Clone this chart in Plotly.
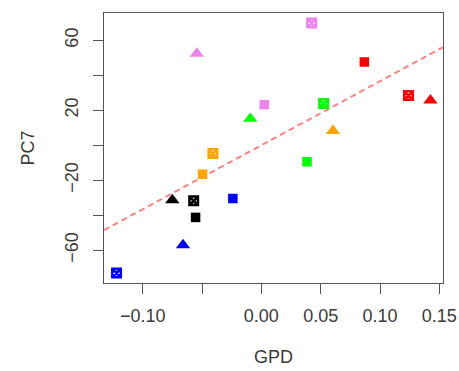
import numpy as np
import plotly.graph_objects as go

# data
gpd = [-0.122, -0.066, -0.075, -0.057, -0.0554, -0.0495, -0.0408, -0.024, 0.0385,
       -0.0543, 0.0025, -0.0093, 0.0424, 0.0525, 0.0604, 0.0868, 0.124, 0.1425]
pc7 = [-73.1, -57.1, -31.4, -31.8, -41.3, -16.6, -4.8, -30.5, -9.5,
       52.4, 23.2, 15.2, 69.9, 23.8, 8.2, 47.6, 28.4, 25.7]
group_color = ["blue", "blue", "black", "black", "black", "orange", "orange", "blue", "green",
               "violet", "violet", "green", "violet", "green", "orange", "red", "red", "red"]
shape = ["crossed", "triangle", "triangle", "crossed", "square", "square", "crossed", "square", "square",
         "triangle", "square", "triangle", "crossed", "crossed", "triangle", "square", "crossed", "triangle"]

x_ticks = [-0.10, -0.05, 0.00, 0.05, 0.10, 0.15]
x_ticktext = ["\u22120.10", "", "0.00", "0.05", "0.10", "0.15"]
y_ticks = [-60, -40, -20, 0, 20, 40, 60]
y_ticktext = ["\u221260", "", "\u221220", "", "20", "", "60"]

cmap = {"red": "#FF0000", "orange": "#FFA500", "green": "#00FF00",
        "blue": "#0000FF", "violet": "#EE82EE", "black": "#000000"}

fig = go.Figure()

x = np.array(gpd)
y = np.array(pc7)
slope, intercept = np.polyfit(x, y, 1)

def pad(a):
    lo, hi = a.min(), a.max()
    d = (hi - lo) * 0.04
    return [lo - d, hi + d]

xr = pad(x)
yr = pad(y)

xl = np.array(xr)
fig.add_trace(go.Scatter(x=xl, y=slope * xl + intercept, mode="lines",
                         line=dict(color="#FF8080", width=2, dash="6px,4px"),
                         hoverinfo="skip", showlegend=False))

for sh in ["square", "triangle", "crossed"]:
    idx = [i for i, s in enumerate(shape) if s == sh]
    cols = [cmap[group_color[i]] for i in idx]
    if sh == "square":
        m = dict(symbol="square", size=9.5, color=cols, line=dict(width=0))
    elif sh == "triangle":
        m = dict(symbol="triangle-up", size=12.5, color=cols, line=dict(width=0))
    else:
        m = dict(symbol="square-x-open", size=8.5, color=cols, line=dict(width=2.5, color=cols))
    fig.add_trace(go.Scatter(x=[gpd[i] for i in idx], y=[pc7[i] for i in idx],
                             mode="markers", marker=m, showlegend=False))

font = dict(family="Liberation Sans, Arial", size=18, color="#3a3a3a")
axis_common = dict(showgrid=False, zeroline=False, showline=True, mirror=True,
                   linecolor="#555555", linewidth=1, ticks="outside", ticklen=10,
                   tickcolor="#555555", tickwidth=1, automargin=False,
                   tickfont=font, title_font=font)

fig.update_xaxes(range=xr, tickvals=x_ticks, ticktext=x_ticktext,
                 title_text="GPD", title_standoff=25, ticklabelstandoff=6, **axis_common)
fig.update_yaxes(range=yr, tickvals=y_ticks, ticktext=y_ticktext, tickangle=-90,
                 title_text="PC7", title_standoff=22, ticklabelstandoff=8, **axis_common)

fig.update_layout(width=459, height=371, margin=dict(l=104, r=16, t=13, b=88),
                  paper_bgcolor="white", plot_bgcolor="white")

fig.write_html("out.html")
